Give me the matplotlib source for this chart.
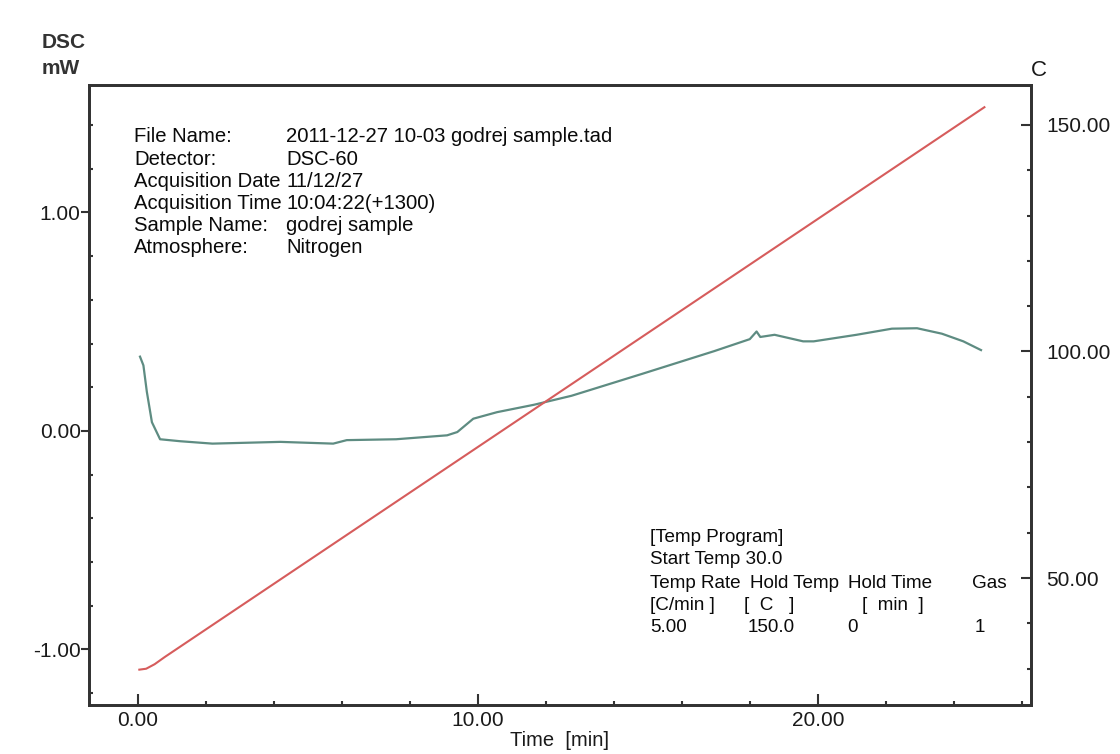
import matplotlib
matplotlib.use("Agg")
import matplotlib.pyplot as plt
from matplotlib.ticker import MultipleLocator, FormatStrFormatter

plt.rcParams['font.family'] = ['Liberation Sans', 'DejaVu Sans']

# DSC heat flow signal [mW] vs time [min]
dsc_time = [0.07, 0.17, 0.27, 0.42, 0.66, 1.25, 2.2, 4.2, 5.75, 6.15, 7.6,
            9.1, 9.4, 9.87, 10.57, 11.66, 12.76, 14.85, 16.95, 18.0, 18.2,
            18.31, 18.73, 19.57, 19.88, 21.14, 22.18, 22.92, 23.65, 24.28,
            24.8]
dsc_mw = [0.34, 0.30, 0.18, 0.04, -0.038, -0.047, -0.058, -0.05, -0.058,
          -0.042, -0.038, -0.02, -0.005, 0.056, 0.086, 0.12, 0.161, 0.262,
          0.365, 0.42, 0.455, 0.43, 0.44, 0.41, 0.41, 0.44, 0.468,
          0.47, 0.445, 0.41, 0.37]

# sample temperature [C] vs time [min]
temp_time = [0.05, 0.25, 0.5, 0.8, 24.9]
temp_c = [29.8, 30.0, 31.0, 32.6, 153.9]

info_keys = ["File Name:", "Detector:", "Acquisition Date",
             "Acquisition Time", "Sample Name:", "Atmosphere:"]
info_values = ["2011-12-27 10-03 godrej sample.tad", "DSC-60", "11/12/27",
               "10:04:22(+1300)", "godrej sample", "Nitrogen"]

program_head = ["[Temp Program]", "Start Temp 30.0"]
program_cols = ["Temp Rate", "Hold Temp", "Hold Time", "Gas"]
program_units = ["[C/min ]", "[  C   ]", "[  min  ]", ""]
program_vals = ["5.00", "150.0", "0", "1"]

W, H = 1120, 754
fig = plt.figure(figsize=(W / 100, H / 100), dpi=100)
fig.patch.set_facecolor("white")


def px(x, y):
    return x / W, 1 - y / H


left, top = px(89, 85)
right, bottom = px(1031, 705)
ax = fig.add_axes([left, bottom, right - left, top - bottom])
ax2 = ax.twinx()

frame_col = "#333333"
for a in (ax, ax2):
    for s in a.spines.values():
        s.set_linewidth(2.0)
        s.set_color(frame_col)

ax.plot(dsc_time, dsc_mw, color="#5e8c82", lw=1.6, zorder=3)
ax2.plot(temp_time, temp_c, color="#d65c5c", lw=1.5, zorder=2)

ax.set_xlim(-1.43, 26.27)
ax.set_ylim(-1.254, 1.583)
ax2.set_ylim(22.0, 158.8)

ax.xaxis.set_major_locator(MultipleLocator(10))
ax.xaxis.set_minor_locator(MultipleLocator(2))
ax.xaxis.set_major_formatter(FormatStrFormatter("%.2f"))
ax.yaxis.set_major_locator(MultipleLocator(1))
ax.yaxis.set_minor_locator(MultipleLocator(0.2))
ax.yaxis.set_major_formatter(FormatStrFormatter("%.2f"))
ax2.yaxis.set_major_locator(MultipleLocator(50))
ax2.yaxis.set_minor_locator(MultipleLocator(10))
ax2.yaxis.set_major_formatter(FormatStrFormatter("%.2f"))

tick_font = 15
ax.tick_params(axis="x", which="major", direction="in", length=8, width=1.5,
               color=frame_col, labelsize=tick_font, pad=4, top=False)
ax.tick_params(axis="x", which="minor", direction="in", length=3, width=1.5,
               color=frame_col, top=False)
ax.tick_params(axis="y", which="major", direction="out", length=6, width=1.5,
               color=frame_col, labelsize=tick_font, pad=0)
ax.tick_params(axis="y", which="minor", direction="in", length=3, width=1.5,
               color=frame_col)
ax2.tick_params(axis="y", which="major", direction="in", length=7, width=1.5,
                color=frame_col, labelsize=tick_font, pad=11)
ax2.tick_params(axis="y", which="minor", direction="in", length=3, width=1.5,
                color=frame_col)
for lab in ax.get_xticklabels() + ax.get_yticklabels() + ax2.get_yticklabels():
    lab.set_color("#1a1a1a")

ax.set_xlabel("Time  [min]", fontsize=14.5, color="#1a1a1a", labelpad=1)

fig.text(*px(42, 43), "DSC", fontsize=15, fontweight="bold",
         color="#333333", va="center", ha="left")
fig.text(*px(42, 68), "mW", fontsize=15, fontweight="bold",
         color="#333333", va="center", ha="left")
fig.text(*px(1031, 70), "C", fontsize=16, color="#1a1a1a",
         va="center", ha="left")

# acquisition info block
info_font = 14.6
for i, (k, v) in enumerate(zip(info_keys, info_values)):
    y = 137 + i * 22.2
    fig.text(*px(134, y), k, fontsize=info_font, va="center", ha="left",
             color="#0a0a0a")
    fig.text(*px(286, y), v, fontsize=info_font, va="center", ha="left",
             color="#0a0a0a")

# temperature program block
prog_font = 13.6
for i, line in enumerate(program_head):
    fig.text(*px(650, 537 + i * 22.5), line, fontsize=prog_font,
             va="center", ha="left", color="#0a0a0a")
col_x = [650, 750, 848, 972]
unit_x = [650, 744, 862, 972]
val_x = [650, 748, 847, 975]
for cx, ux, vx, c, u, v in zip(col_x, unit_x, val_x, program_cols,
                               program_units, program_vals):
    fig.text(*px(cx, 584), c, fontsize=prog_font, va="center", ha="left",
             color="#0a0a0a")
    fig.text(*px(ux, 606), u, fontsize=prog_font, va="center", ha="left",
             color="#0a0a0a")
    fig.text(*px(vx, 628), v, fontsize=prog_font, va="center", ha="left",
             color="#0a0a0a")

fig.savefig("out.png", dpi=100, facecolor="white")
